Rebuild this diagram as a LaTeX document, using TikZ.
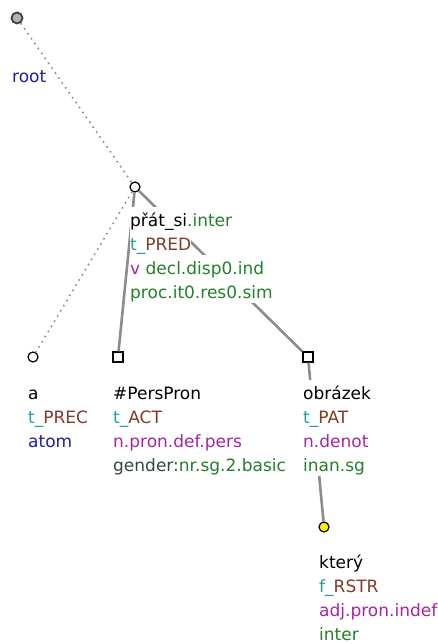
\documentclass[tikz,border=0pt]{standalone}
\usepackage{fontspec}
\setmainfont{DejaVu Sans}
\usetikzlibrary{positioning,calc}
\definecolor{funccol}{HTML}{7F3B2B}
\definecolor{tcol}{HTML}{23A0A0}
\definecolor{poscol}{HTML}{A624A6}
\definecolor{gramcol}{HTML}{23802A}
\definecolor{keycol}{HTML}{2E4A44}
\definecolor{rootcol}{HTML}{1F1FA0}
\definecolor{edgecol}{HTML}{8C8C8C}
\newcommand{\tline}[1]{{\setlength{\fboxsep}{0pt}\colorbox{white}{\rule[-5pt]{0pt}{24pt}#1}}}
\tikzset{
  tnode/.style={circle,draw=black,line width=1.2pt,fill=white,minimum size=10pt,inner sep=0pt},
  tsq/.style={rectangle,draw=black,line width=1.2pt,fill=white,minimum size=10pt,inner sep=0pt},
  lbl/.style={anchor=base west,align=left,inner sep=0pt,font=\fontsize{17}{24}\selectfont},
  hidden/.style={draw=edgecol,line width=1.6pt,dash pattern=on 1.6pt off 4.4pt},
  dep/.style={draw=edgecol,line width=2.6pt}
}
\begin{document}
\begin{tikzpicture}[x=1pt,y=-1pt]
\useasboundingbox (0,0) rectangle (438,644);
% tree nodes
\node[tnode,fill=black!30,draw=black!75,line width=1.8pt,minimum size=11pt] (root) at (17,18) {};
\node[tnode] (pred) at (135,187) {};
\node[tnode] (atomnode) at (33,357) {};
\node[tsq] (act) at (118,357) {};
\node[tsq] (pat) at (308,357) {};
\node[tnode,fill=yellow] (rstr) at (324,527) {};
% edges
\draw[hidden] (root) -- (pred);
\draw[hidden] (pred) -- (atomnode);
\draw[dep] (pred) -- (act);
\draw[dep] (pred) -- (pat);
\draw[dep] (pat) -- (rstr);
% labels (base anchor sits on the last line)
\node[lbl] (rootlbl) at ($(root)+(-5,65)$) {\tline{\textcolor{rootcol}{root}}};
\node[lbl] (predlbl) at ($(pred)+(-5,111)$) {\tline{p\v{r}át\_si\textcolor{gramcol}{.inter}}\\
  \tline{\textcolor{tcol}{t\_}\textcolor{funccol}{PRED}}\\
  \tline{\textcolor{poscol}{v} \textcolor{gramcol}{decl.disp0.ind}}\\
  \tline{\textcolor{gramcol}{proc.it0.res0.sim}}};
\node[lbl] (atomlbl) at ($(atomnode)+(-5,90)$) {\tline{a}\\
  \tline{\textcolor{tcol}{t\_}\textcolor{funccol}{PREC}}\\
  \tline{\textcolor{rootcol}{atom}}};
\node[lbl] (actlbl) at ($(act)+(-5,114)$) {\tline{\#PersPron}\\
  \tline{\textcolor{tcol}{t\_}\textcolor{funccol}{ACT}}\\
  \tline{\textcolor{poscol}{n.pron.def.pers}}\\
  \tline{\textcolor{keycol}{gender:}\textcolor{gramcol}{nr.sg.2.basic}}};
\node[lbl] (patlbl) at ($(pat)+(-5,114)$) {\tline{obrázek}\\
  \tline{\textcolor{tcol}{t\_}\textcolor{funccol}{PAT}}\\
  \tline{\textcolor{poscol}{n.denot}}\\
  \tline{\textcolor{gramcol}{inan.sg}}};
\node[lbl] (rstrlbl) at ($(rstr)+(-5,113)$) {\tline{který}\\
  \tline{\textcolor{tcol}{f\_}\textcolor{funccol}{RSTR}}\\
  \tline{\textcolor{poscol}{adj.pron.indef}}\\
  \tline{\textcolor{gramcol}{inter}}};
\end{tikzpicture}
\end{document}
